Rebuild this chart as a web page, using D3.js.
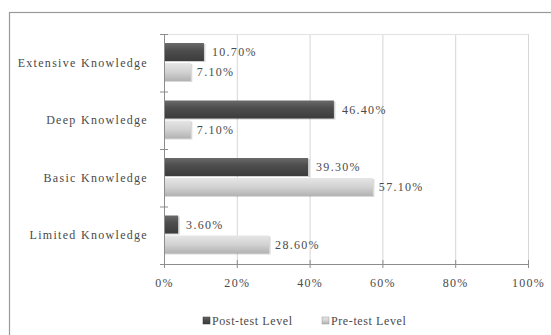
<!DOCTYPE html>
<html><head><meta charset="utf-8">
<script src="https://cdn.jsdelivr.net/npm/d3@7"></script>
<style>body{margin:0;background:#fff;} svg{display:block;} text{font-family:"Liberation Serif","Times New Roman",serif;}</style>
</head><body>
<script>
const categories = ["Extensive Knowledge","Deep Knowledge","Basic Knowledge","Limited Knowledge"];
const postTest = [10.7, 46.4, 39.3, 3.6];
const preTest = [7.1, 7.1, 57.1, 28.6];
const seriesNames = ["Post-test Level","Pre-test Level"];
const xTicks = [0,20,40,60,80,100];

const W=551,H=335;
const svg=d3.select("body").append("svg").attr("width",W).attr("height",H);
const defs=svg.append("defs");
const gd=defs.append("linearGradient").attr("id","gDark").attr("x1",0).attr("y1",0).attr("x2",0).attr("y2",1);
gd.append("stop").attr("offset","0%").attr("stop-color","#6a6a6a");
gd.append("stop").attr("offset","40%").attr("stop-color","#4e4e4e");
gd.append("stop").attr("offset","100%").attr("stop-color","#3c3c3c");
const gl=defs.append("linearGradient").attr("id","gLight").attr("x1",0).attr("y1",0).attr("x2",0).attr("y2",1);
gl.append("stop").attr("offset","0%").attr("stop-color","#e6e6e6");
gl.append("stop").attr("offset","50%").attr("stop-color","#d2d2d2");
gl.append("stop").attr("offset","100%").attr("stop-color","#b2b2b2");

svg.append("rect").attr("x",9.5).attr("y",12.5).attr("width",560).attr("height",340)
  .attr("fill","none").attr("stroke","#9a9a9a").attr("stroke-width",1.2);

const m={l:164,r:528,t:34,b:264};
const x=d3.scaleLinear().domain([0,100]).range([m.l,m.r]);
const y=d3.scaleBand().domain(categories).range([m.t,m.b]);
const fs=12, ls="1.3px", tc="#4a4a4a";

// gridlines
svg.append("g").selectAll("line").data(xTicks.slice(1)).join("line")
  .attr("x1",d=>x(d)+0.5).attr("x2",d=>x(d)+0.5).attr("y1",m.t).attr("y2",m.b)
  .attr("stroke","#d6d6d6").attr("stroke-width",1);
svg.append("line").attr("x1",m.l).attr("x2",m.r).attr("y1",m.t+0.5).attr("y2",m.t+0.5).attr("stroke","#e2e2e2");

// axes
const xa=svg.append("g").attr("transform",`translate(0,${m.b})`)
  .call(d3.axisBottom(x).tickValues(xTicks).tickFormat(d=>d+"%").tickSize(4).tickSizeOuter(0));
xa.select(".domain").attr("stroke","#8c8c8c");
xa.selectAll(".tick line").attr("stroke","#8c8c8c").attr("y1",-4).attr("y2",4);
xa.selectAll("text").attr("font-size",fs).attr("letter-spacing",ls).attr("fill",tc).attr("y",14).attr("dy","0.71em");

const ya=svg.append("g").attr("transform",`translate(${m.l},0)`)
  .call(d3.axisLeft(y).tickSize(0).tickPadding(16));
ya.select(".domain").attr("stroke","#8c8c8c");
ya.selectAll("text").attr("font-size",fs).attr("letter-spacing",ls).attr("fill",tc);
// band boundary ticks
svg.append("g").selectAll("line").data(categories.map(c=>y(c)).concat([m.b])).join("line")
  .attr("x1",m.l-4).attr("x2",m.l+4).attr("y1",d=>d+0.5).attr("y2",d=>d+0.5).attr("stroke","#8c8c8c");

const barH=18;
const rows=categories.map((c,i)=>({c,post:postTest[i],pre:preTest[i]}));
const g=svg.append("g");
// shadows
g.selectAll("rect.sh1").data(rows).join("rect")
  .attr("x",m.l+1).attr("y",d=>y(d.c)+10).attr("width",d=>x(d.post)-m.l+1.5).attr("height",barH)
  .attr("fill","#000").attr("opacity",0.18);
g.selectAll("rect.sh2").data(rows).join("rect")
  .attr("x",m.l+1).attr("y",d=>y(d.c)+30).attr("width",d=>x(d.pre)-m.l+1.5).attr("height",barH)
  .attr("fill","#000").attr("opacity",0.15);
g.selectAll("rect.post").data(rows).join("rect").attr("class","post")
  .attr("x",m.l+1).attr("y",d=>y(d.c)+9).attr("width",d=>x(d.post)-m.l).attr("height",barH)
  .attr("fill","url(#gDark)");
g.selectAll("rect.pre").data(rows).join("rect").attr("class","pre")
  .attr("x",m.l+1).attr("y",d=>y(d.c)+29).attr("width",d=>x(d.pre)-m.l).attr("height",barH)
  .attr("fill","url(#gLight)");
g.selectAll("text.lp").data(rows).join("text")
  .attr("x",d=>x(d.post)+9).attr("y",d=>y(d.c)+9+barH/2).attr("dy","0.35em")
  .attr("font-size",fs).attr("letter-spacing",ls).attr("fill",tc)
  .text(d=>d.post.toFixed(2)+"%");
g.selectAll("text.lq").data(rows).join("text")
  .attr("x",d=>x(d.pre)+7).attr("y",d=>y(d.c)+29+barH/2).attr("dy","0.35em")
  .attr("font-size",fs).attr("letter-spacing",ls).attr("fill",tc)
  .text(d=>d.pre.toFixed(2)+"%");

// legend
const leg=svg.append("g");
const lx=[203,322], fills=["url(#gDark)","url(#gLight)"];
seriesNames.forEach((s,i)=>{
  leg.append("rect").attr("x",lx[i]).attr("y",317).attr("width",7).attr("height",7)
    .attr("fill",fills[i]).attr("stroke",i?"#999":"#333").attr("stroke-width",0.5);
  leg.append("text").attr("x",lx[i]+9).attr("y",321).attr("dy","0.35em")
    .attr("font-size",fs).attr("letter-spacing","0.6px").attr("fill",tc).text(s);
});
</script>
</body></html>
